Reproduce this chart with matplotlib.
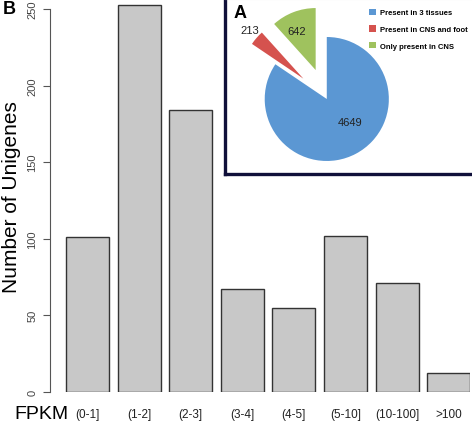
import numpy as np
from matplotlib import pyplot as plt

plt.rcParams['font.family'] = ['Liberation Sans', 'DejaVu Sans']

# bar chart data (panel B)
fpkm_bins = ["(0-1]", "(1-2]", "(2-3]", "(3-4]", "(4-5]", "(5-10]", "(10-100]", ">100"]
unigene_counts = [101, 253, 184, 67, 55, 102, 71, 12]

# pie chart data (panel A)
pie_names = ["Present in 3 tissues", "Present in CNS and foot", "Only present in CNS"]
pie_values = [4649, 213, 642]
pie_colors = ["#5b97d3", "#d5524e", "#9fc25e"]

W, H = 472, 427
fig = plt.figure(figsize=(W / 100, H / 100), dpi=100)

# main axes, R barplot style: width 1, space 0.2
x0_px, y0_px = 57.4, 392.7
ax = fig.add_axes([x0_px / W, (H - y0_px) / H, 412.8 / W, 391.7 / H])
pos = 0.7 + 1.2 * np.arange(len(unigene_counts))
ax.bar(pos, unigene_counts, width=1.0, color="#c8c8c8", edgecolor="#333333", linewidth=1.0)
ax.set_xlim(0, 9.6)
ax.set_ylim(0, 256)
for s in ["top", "right", "bottom"]:
    ax.spines[s].set_visible(False)
ax.spines["left"].set_bounds(0, 250)
ax.spines["left"].set_position(("outward", 5.3))
ax.spines["left"].set_color("#555555")
ax.set_yticks([0, 50, 100, 150, 200, 250])
ax.tick_params(axis="y", length=5, color="#555555", labelsize=8, labelcolor="#444444", pad=4)
for lab in ax.get_yticklabels():
    lab.set_rotation(90)
    lab.set_va("center")
ax.set_xticks(pos)
ax.set_xticklabels(fpkm_bins, fontsize=8.5, color="#222222")
ax.tick_params(axis="x", length=0, pad=12)
ax.set_ylabel("Number of Unigenes", fontsize=15, labelpad=5)
fig.text(14 / W, 1 - 415 / H, "FPKM", fontsize=14, va="center", ha="left")
fig.text(3 / W, 1 - 9 / H, "B", fontsize=13, fontweight="bold", va="center", ha="left")

# inset pie (panel A)
pax = fig.add_axes([225 / W, (H - 175) / H, 247 / W, 175 / H])
pax.set_facecolor("white")
wedges, _ = pax.pie(pie_values, colors=pie_colors, startangle=90, counterclock=False,
                    explode=[0, 0.5, 0.5], radius=1.0, center=(0, 0))
pax.set_aspect("auto")
pax.set_xlim(-1.64, 2.34)
pax.set_ylim(-1.21, 1.613)
pax.set_frame_on(True)
for s in ["left", "bottom"]:
    pax.spines[s].set_color("#10103a")
    pax.spines[s].set_linewidth(2.4)
pax.spines["top"].set_color("#dddddd")
pax.spines["right"].set_visible(False)
pax.set_xticks([])
pax.set_yticks([])
pax.text(0.37, -0.37, str(pie_values[0]), fontsize=8, ha="center", va="center", color="#222222")
pax.text(-1.24, 1.11, str(pie_values[1]), fontsize=8, ha="center", va="center", color="#222222")
pax.text(-0.48, 1.10, str(pie_values[2]), fontsize=8, ha="center", va="center", color="#222222")
pax.text(-1.50, 1.40, "A", fontsize=13, fontweight="bold", ha="left", va="center")
pax.legend(wedges, pie_names, loc="upper left", bbox_to_anchor=(0.585, 0.945), frameon=False,
           prop={"weight": "bold", "size": 5.5},
           handlelength=0.9, handleheight=0.9, labelspacing=1.15, handletextpad=0.45,
           borderaxespad=0, borderpad=0)

fig.savefig("out.png", dpi=100)
